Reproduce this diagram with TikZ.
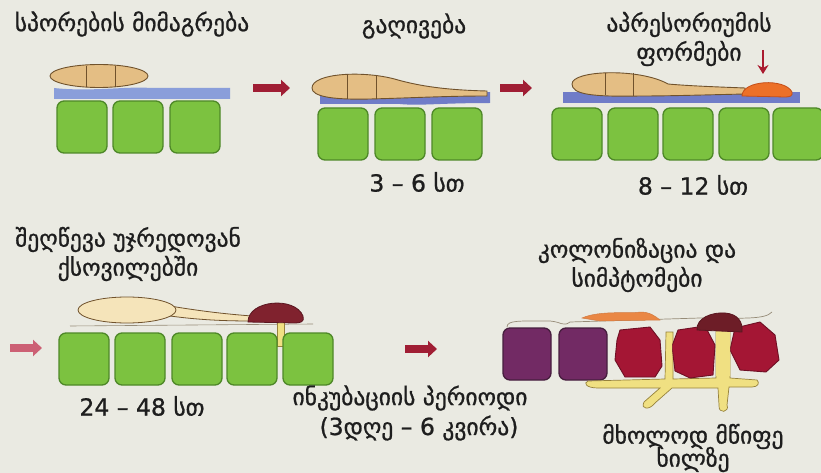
\documentclass[tikz,border=0pt]{standalone}
\usepackage{fontspec}
\setmainfont{DejaVu Sans}
\newfontfamily\lblfont{DejaVu Sans}[FakeBold=0.9]
\usetikzlibrary{arrows.meta}

\definecolor{bgcol}{RGB}{234,234,226}
\definecolor{cellFill}{RGB}{124,194,64}
\definecolor{cellEdge}{RGB}{78,136,40}
\definecolor{layerA}{RGB}{138,158,218}
\definecolor{layerB}{RGB}{112,124,200}
\definecolor{layerEdge}{RGB}{84,92,170}
\definecolor{sporeFill}{RGB}{228,190,132}
\definecolor{sporePale}{RGB}{245,228,186}
\definecolor{sporeEdge}{RGB}{112,82,44}
\definecolor{appOrange}{RGB}{236,112,40}
\definecolor{appEdge}{RGB}{196,78,24}
\definecolor{capRed}{RGB}{128,34,46}
\definecolor{capEdge}{RGB}{90,22,32}
\definecolor{hypha}{RGB}{240,224,130}
\definecolor{hyphaEdge}{RGB}{150,130,60}
\definecolor{purpleCell}{RGB}{114,42,100}
\definecolor{purpleEdge}{RGB}{70,30,62}
\definecolor{rotCell}{RGB}{164,22,52}
\definecolor{rotEdge}{RGB}{110,16,36}
\definecolor{arrowRed}{RGB}{160,30,52}
\definecolor{arrowPink}{RGB}{204,96,116}
\definecolor{cuticle}{RGB}{150,140,120}
\definecolor{textcol}{RGB}{30,30,30}

\tikzset{
  cell/.style={draw=cellEdge, fill=cellFill, line width=1.3pt, rounded corners=7pt,
    minimum width=50pt, minimum height=52pt, inner sep=0pt},
  pcell/.style={cell, draw=purpleEdge, fill=purpleCell, minimum width=48pt},
  label/.style={text=textcol, font=\lblfont\fontsize{23.5}{28}\selectfont, inner sep=0pt, align=center},
  spore/.style={draw=sporeEdge, fill=sporeFill, line width=0.9pt},
  septum/.style={draw=sporeEdge, line width=1pt},
  stepArrow/.style={line width=7.5pt, draw=arrowRed, -{Triangle[length=9pt,width=16pt]}},
}

\begin{document}
\begin{tikzpicture}[x=1pt,y=-1pt]
\useasboundingbox (0,0) rectangle (821,473);
\fill[bgcol] (0,0) rectangle (821,473);

% ---------- stage 1: spore attachment ----------
\node[label] (t1) at (132,24) {სპორების მიმაგრება};
\fill[layerA] (54,88) .. controls (90,92) and (130,86) .. (150,88) -- (230,88) -- (230,99) -- (54,99) -- cycle;
\draw[spore] (99,76) ellipse [x radius=49, y radius=11.5];
\draw[septum] (86,66) -- (86,87) (115,66) -- (115,87);
\node[cell] (c11) at (82,127) {};
\node[cell] (c12) at (138,127) {};
\node[cell] (c13) at (195,127) {};

\coordinate (a1s) at (253,88);
\coordinate (a1e) at (290,88);
\draw[stepArrow] (a1s) -- (a1e);

% ---------- stage 2: germination ----------
\node[label] (t2) at (414,26) {გაღივება};
\fill[layerB] (320,96) .. controls (360,100) and (380,92) .. (420,94) -- (490,92) -- (490,103) .. controls (440,103) and (420,106) .. (400,104) -- (320,104) -- cycle;
\draw[spore] (312,88) .. controls (312,73) and (365,70) .. (398,80)
  .. controls (420,86) and (445,90) .. (487,91) -- (487,96)
  .. controls (445,96) and (410,98) .. (370,99)
  .. controls (330,100) and (312,96) .. (312,88) -- cycle;
\draw[septum] (347,74) -- (347,99) (376,75) -- (376,99);
\node[cell] (c21) at (343,134) {};
\node[cell] (c22) at (400,134) {};
\node[cell] (c23) at (457,134) {};
\node[label] (h2) at (417,182) {3 – 6 სთ};

\coordinate (a2s) at (500,88);
\coordinate (a2e) at (532,88);
\draw[stepArrow] (a2s) -- (a2e);

% ---------- stage 3: appressorium ----------
\node[label] (t3) at (689,39) {აპრესორიუმის\\[1pt]ფორმები};
\fill[layerB] (563,92) -- (800,92) -- (800,103) -- (563,103) -- cycle;
\draw[spore] (572,84) .. controls (572,70) and (640,68) .. (668,84)
  .. controls (690,86) and (720,87) .. (745,88) -- (745,94)
  .. controls (700,95) and (670,96) .. (640,96)
  .. controls (590,97) and (572,94) .. (572,84) -- cycle;
\draw[septum] (605,73) -- (605,95) (633,73) -- (633,96);
\draw[draw=appEdge, fill=appOrange, line width=0.8pt] (742,96) .. controls (742,80) and (785,78) .. (792,92) .. controls (793,96) and (790,97) .. (785,97) -- cycle;
\coordinate (d3s) at (763,50);
\coordinate (d3e) at (763,74);
\draw[line width=2.6pt, arrowRed!90!red, -{Stealth[length=9pt,width=11pt]}] (d3s) -- (d3e);
\node[cell] (c31) at (577,134) {};
\node[cell] (c32) at (633,134) {};
\node[cell] (c33) at (688,134) {};
\node[cell] (c34) at (744,134) {};
\node[cell] (c35) at (798,134) {};
\node[label] (h3) at (693,185) {8 – 12 სთ};

% ---------- stage 4: penetration ----------
\node[label] (t4) at (128,254) {შეღწევა უჯრედოვან\\[1pt]ქსოვილებში};
\coordinate (a4s) at (10,348);
\coordinate (a4e) at (42,348);
\draw[stepArrow, draw=arrowPink] (a4s) -- (a4e);
\draw[cuticle, line width=0.6pt] (70,326) -- (313,324);
\draw[draw=sporeEdge, fill=sporePale, line width=0.8pt]
  (170,306) .. controls (200,311) and (225,314) .. (252,316) -- (252,321)
  .. controls (225,321) and (200,320) .. (170,316) -- cycle;
\draw[draw=sporeEdge, fill=sporePale, line width=0.8pt] (127,310) ellipse [x radius=49, y radius=13];
\draw[draw=hyphaEdge, fill=hypha, line width=0.6pt] (277,320) rectangle (284,346);
\draw[draw=capEdge, fill=capRed, line width=0.8pt] (248,322) .. controls (248,300) and (295,296) .. (303,316) .. controls (305,322) and (300,323) .. (295,323) -- cycle;
\node[cell] (c41) at (84,359) {};
\node[cell] (c42) at (140,359) {};
\node[cell] (c43) at (197,359) {};
\node[cell] (c44) at (252,359) {};
\node[cell] (c45) at (308,359) {};
\node[label] (h4) at (142,406) {24 – 48 სთ};

% ---------- incubation ----------
\coordinate (a5s) at (405,349);
\coordinate (a5e) at (437,349);
\draw[stepArrow] (a5s) -- (a5e);
\node[label] (t5) at (410,398) {ინკუბაციის პერიოდი};
\node[label] (h5) at (419,428) {(3დღე – 6 კვირა)};

% ---------- stage 6: colonisation ----------
\node[label] (t6) at (637,265) {კოლონიზაცია და\\[1pt]სიმპტომები};
% cuticle over the tissue
\draw[cuticle, line width=0.7pt] (507,327) .. controls (507,320) and (520,321) .. (550,321)
  .. controls (562,322) and (563,327) .. (570,322) -- (700,318)
  .. controls (740,318) and (765,320) .. (772,312);
% remains of the spore
\draw[draw=appEdge!60!sporeFill, fill=appOrange!70!sporeFill, line width=0.5pt]
  (582,318) .. controls (600,310) and (630,314) .. (640,312) .. controls (650,312) and (655,316) .. (660,320) -- (600,321) -- cycle;
\node[pcell] (c61) at (527,354) {};
\node[pcell] (c62) at (583,354) {};
% hyphae spreading under the tissue
\draw[draw=hyphaEdge, fill=hypha, line width=0.7pt]
  (588,381) -- (665,379) -- (666,332) -- (673,332) -- (673,379)
  -- (716,378) -- (716,322) -- (730,322) -- (730,378) -- (757,380)
  .. controls (760,383) and (758,387) .. (752,387) -- (729,387)
  -- (727,405) .. controls (730,412) and (718,415) .. (719,405) -- (718,388)
  -- (672,388) -- (655,403) .. controls (650,410) and (640,410) .. (644,402)
  -- (660,388) -- (598,388) .. controls (586,388) and (583,383) .. (588,381) -- cycle;
% rotting cells
\draw[draw=rotEdge, fill=rotCell, line width=0.9pt] (620,330) -- (650,327) -- (660,340) -- (662,366) -- (655,377) -- (625,377) -- (615,360) -- (617,340) -- cycle;
\draw[draw=rotEdge, fill=rotCell, line width=0.9pt] (678,330) -- (705,326) -- (715,345) -- (713,375) -- (690,378) -- (675,371) -- (672,346) -- cycle;
\draw[draw=rotEdge, fill=rotCell, line width=0.9pt] (735,328) -- (760,322) -- (775,335) -- (779,360) -- (766,372) -- (740,370) -- (730,350) -- cycle;
\fill[hypha] (716,330) rectangle (721,376) (725,330) rectangle (730,376) (667,334) rectangle (672,376);
\draw[draw=capEdge, fill=capRed!85!black, line width=0.8pt] (697,330) .. controls (696,318) and (712,312) .. (725,313) .. controls (738,314) and (743,322) .. (742,332) -- cycle;
\node[label] (t7) at (693,448) {მხოლოდ მწიფე\\[-5pt]ხილზე};
\end{tikzpicture}
\end{document}
